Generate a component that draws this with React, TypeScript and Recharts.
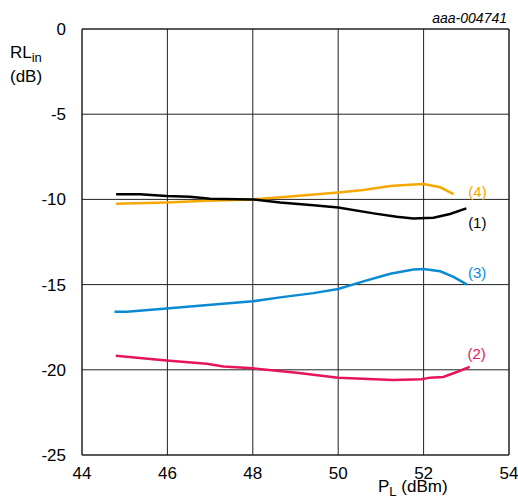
import React from "react";
import { LineChart, Line, XAxis, YAxis, CartesianGrid, ReferenceLine } from "recharts";

const xTicks = [44, 46, 48, 50, 52, 54];
const yTicks = [0, -5, -10, -15, -20, -25];

const curve1 = [
  { x: 44.8, y: -9.7 }, { x: 45.36, y: -9.7 }, { x: 45.98, y: -9.8 }, { x: 46.53, y: -9.84 },
  { x: 47.0, y: -9.96 }, { x: 48.0, y: -10.0 }, { x: 48.64, y: -10.18 }, { x: 49.42, y: -10.35 },
  { x: 50.0, y: -10.47 }, { x: 50.83, y: -10.82 }, { x: 51.37, y: -11.02 }, { x: 51.76, y: -11.12 },
  { x: 52.23, y: -11.08 }, { x: 52.62, y: -10.86 }, { x: 53.0, y: -10.53 },
];
const curve2 = [
  { x: 44.79, y: -19.17 }, { x: 45.98, y: -19.45 }, { x: 46.92, y: -19.64 }, { x: 47.31, y: -19.8 },
  { x: 48.0, y: -19.91 }, { x: 49.03, y: -20.18 }, { x: 50.0, y: -20.46 }, { x: 51.29, y: -20.6 },
  { x: 51.95, y: -20.56 }, { x: 52.15, y: -20.46 }, { x: 52.46, y: -20.42 }, { x: 52.78, y: -20.13 },
  { x: 53.08, y: -19.83 },
];
const curve3 = [
  { x: 44.76, y: -16.6 }, { x: 45.05, y: -16.6 }, { x: 45.98, y: -16.4 }, { x: 47.23, y: -16.14 },
  { x: 48.0, y: -15.98 }, { x: 48.64, y: -15.75 }, { x: 49.42, y: -15.5 }, { x: 50.0, y: -15.26 },
  { x: 50.59, y: -14.81 }, { x: 51.22, y: -14.36 }, { x: 51.76, y: -14.12 }, { x: 52.0, y: -14.08 },
  { x: 52.39, y: -14.22 }, { x: 52.7, y: -14.55 }, { x: 53.02, y: -15.0 },
];
const curve4 = [
  { x: 44.8, y: -10.26 }, { x: 45.98, y: -10.18 }, { x: 46.92, y: -10.08 }, { x: 48.0, y: -10.0 },
  { x: 48.8, y: -9.85 }, { x: 50.0, y: -9.59 }, { x: 50.59, y: -9.45 }, { x: 51.22, y: -9.22 },
  { x: 51.76, y: -9.12 }, { x: 52.0, y: -9.1 }, { x: 52.39, y: -9.29 }, { x: 52.7, y: -9.69 },
];

const FONT = "'Liberation Sans', Arial, sans-serif";

const endLabel = (text: string, color: string, len: number, dx: number, dy: number) =>
  (props: any) => {
    if (props.index !== len - 1) return null;
    return (
      <text x={props.x + dx} y={props.y + dy} fill={color} fontSize={15} fontFamily={FONT}
        textAnchor="middle" dominantBaseline="central">{text}</text>
    );
  };

export default function App() {
  return (
    <div style={{ position: "absolute", left: 0, top: 0, width: 518, height: 502, background: "#fff" }}>
      <LineChart width={518} height={502} margin={{ top: 29, right: 9, bottom: 0, left: 0 }}>
        <CartesianGrid stroke="#222" strokeWidth={1} vertical={true} horizontal={true} />
        <XAxis type="number" dataKey="x" domain={[44, 54]} ticks={xTicks} height={47}
          axisLine={{ stroke: "#222" }} tickLine={false} tickMargin={6} interval={0}
          tick={{ fill: "#000", fontSize: 17, fontFamily: FONT }} />
        <YAxis type="number" dataKey="y" domain={[-25, 0]} ticks={yTicks} width={82}
          axisLine={{ stroke: "#222" }} tickLine={false} tickMargin={10} interval={0}
          tick={{ fill: "#000", fontSize: 17, fontFamily: FONT }} />
        <ReferenceLine y={0} stroke="#222" />
        <ReferenceLine x={54} stroke="#222" />
        <Line data={curve4} dataKey="y" stroke="#f5a800" strokeWidth={2.5} dot={false}
          isAnimationActive={false} label={endLabel("(4)", "#f5a800", curve4.length, 24, -3)} />
        <Line data={curve1} dataKey="y" stroke="#000" strokeWidth={2.5} dot={false}
          isAnimationActive={false} label={endLabel("(1)", "#000", curve1.length, 11, 14)} />
        <Line data={curve3} dataKey="y" stroke="#0a8ad2" strokeWidth={2.5} dot={false}
          isAnimationActive={false} label={endLabel("(3)", "#0a8ad2", curve3.length, 10, -12)} />
        <Line data={curve2} dataKey="y" stroke="#e6145c" strokeWidth={2.5} dot={false}
          isAnimationActive={false} label={endLabel("(2)", "#e6145c", curve2.length, 7, -13)} />
        <text x={507} y={18} textAnchor="end" dominantBaseline="central" fontSize={14}
          fontStyle="italic" fontFamily={FONT} fill="#000">aaa-004741</text>
        <text x={10} y={58} fontSize={17} fontFamily={FONT} fill="#000">
          RL<tspan fontSize={13} dy={4}>in</tspan>
        </text>
        <text x={10} y={82} fontSize={17} fontFamily={FONT} fill="#000">(dB)</text>
        <text x={378} y={492} fontSize={17} fontFamily={FONT} fill="#000">
          P<tspan fontSize={13} dy={4}>L</tspan><tspan dy={-4}> (dBm)</tspan>
        </text>
      </LineChart>
    </div>
  );
}
